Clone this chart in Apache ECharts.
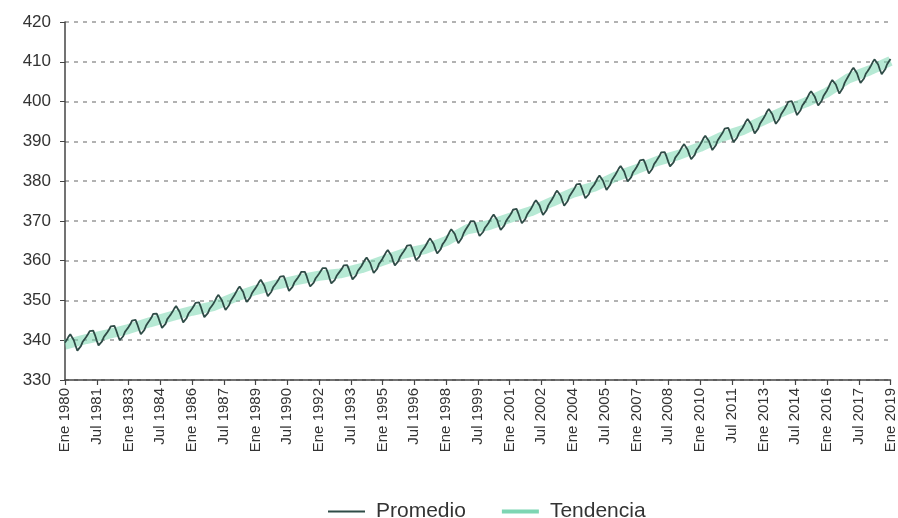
<!DOCTYPE html>
<html>
<head>
<meta charset="utf-8">
<script src="https://cdn.jsdelivr.net/npm/echarts@6/dist/echarts.min.js"></script>
<style>
html,body{margin:0;padding:0;background:#fff;}
#c{width:898px;height:518px;}
</style>
</head>
<body>
<div id="c"></div>
<script>
// Month names and years for categories
const meses = ["Ene","Feb","Mar","Abr","May","Jun","Jul","Ago","Sep","Oct","Nov","Dic"];
const anioInicio = 1980;
const anioFin = 2019; // data through Ene 2019

// Monthly average CO2 (ppm), Ene 1980 .. Ene 2019
const promedio = [
339.4,340.1,340.9,341.5,341.1,340.0,338.6,337.4,337.4,338.5,339.6,340.2,
340.8,341.5,342.3,342.8,342.4,341.3,339.9,338.7,338.7,339.7,340.8,341.4,
342.0,342.7,343.5,344.0,343.6,342.5,341.2,340.0,340.0,341.0,342.1,342.7,
343.3,344.0,344.9,345.4,345.1,344.0,342.7,341.5,341.5,342.6,343.7,344.4,
345.0,345.7,346.6,347.1,346.7,345.6,344.3,343.1,343.1,344.1,345.3,345.9,
346.5,347.2,348.0,348.6,348.2,347.1,345.7,344.5,344.5,345.6,346.7,347.3,
347.9,348.6,349.4,349.9,349.5,348.4,347.0,345.8,345.8,346.8,347.9,348.5,
349.1,349.9,350.8,351.4,351.0,350.0,348.7,347.6,347.7,348.8,349.9,350.6,
351.3,352.1,352.9,353.5,353.1,352.1,350.7,349.6,349.6,350.7,351.8,352.5,
353.1,353.8,354.6,355.2,354.8,353.7,352.3,351.1,351.1,352.2,353.3,353.9,
354.5,355.2,356.0,356.5,356.1,355.0,353.6,352.4,352.4,353.4,354.5,355.1,
355.7,356.4,357.2,357.7,357.2,356.1,354.7,353.5,353.5,354.5,355.5,356.1,
356.7,357.4,358.1,358.6,358.1,357.0,355.5,354.3,354.2,355.2,356.2,356.8,
357.3,358.0,358.8,359.3,358.9,357.8,356.5,355.3,355.3,356.3,357.4,358.0,
358.6,359.4,360.2,360.8,360.4,359.4,358.1,356.9,357.0,358.0,359.2,359.8,
360.5,361.3,362.1,362.7,362.3,361.3,359.9,358.8,358.8,359.9,361.0,361.7,
362.3,363.0,363.8,364.3,363.9,362.8,361.4,360.1,360.1,361.1,362.2,362.8,
363.4,364.2,365.0,365.6,365.3,364.2,362.9,361.8,361.8,362.9,364.1,364.7,
365.4,366.3,367.2,367.9,367.6,366.7,365.4,364.4,364.5,365.7,366.9,367.7,
368.4,369.1,369.9,370.4,369.9,368.8,367.4,366.2,366.2,367.2,368.2,368.8,
369.4,370.2,371.0,371.6,371.2,370.2,368.8,367.7,367.7,368.8,369.9,370.6,
371.2,371.9,372.8,373.3,373.0,371.9,370.6,369.4,369.4,370.5,371.6,372.3,
372.9,373.7,374.6,375.2,374.9,373.9,372.6,371.5,371.6,372.7,373.9,374.6,
375.3,376.1,377.0,377.6,377.3,376.3,375.0,373.8,373.9,375.0,376.2,376.9,
377.6,378.3,379.2,379.7,379.3,378.2,376.9,375.7,375.7,376.7,377.9,378.5,
379.1,379.9,380.8,381.4,381.1,380.1,378.9,377.8,377.9,379.0,380.2,380.9,
381.6,382.4,383.2,383.8,383.4,382.4,381.1,379.9,380.0,381.0,382.2,382.8,
383.5,384.3,385.2,385.7,385.4,384.4,383.1,381.9,382.0,383.1,384.3,384.9,
385.6,386.3,387.2,387.7,387.3,386.2,384.9,383.7,383.7,384.7,385.9,386.5,
387.1,387.9,388.7,389.3,389.0,387.9,386.6,385.5,385.5,386.6,387.8,388.4,
389.1,389.9,390.8,391.4,391.1,390.1,388.9,387.8,387.9,389.0,390.2,390.9,
391.6,392.3,393.2,393.7,393.4,392.3,391.0,389.8,389.8,390.9,392.0,392.7,
393.3,394.1,395.0,395.6,395.3,394.3,393.1,392.0,392.1,393.2,394.4,395.1,
395.8,396.6,397.5,398.1,397.8,396.8,395.5,394.4,394.5,395.6,396.8,397.5,
398.2,399.0,399.9,400.4,400.1,399.1,397.8,396.6,396.7,397.8,399.0,399.6,
400.3,401.1,402.0,402.6,402.3,401.3,400.1,399.0,399.1,400.2,401.4,402.1,
402.8,403.7,404.7,405.4,405.2,404.3,403.1,402.0,402.2,403.4,404.7,405.5,
406.3,407.1,407.9,408.5,408.2,407.1,405.8,404.7,404.7,405.8,407.0,407.6,
408.3,409.1,410.0,410.6,410.3,409.3,408.0,406.9,407.0,408.1,409.3,410.0,
410.7
];

// Trend (ppm) at each January, 1980 .. 2019
const tendencia = [
338.9,340.3,341.5,342.8,344.5,346.0,347.4,348.6,350.8,352.6,
354.0,355.2,356.2,356.8,358.1,360.0,361.8,362.9,364.9,367.9,
368.9,370.7,372.4,374.8,377.1,378.6,381.1,383.0,385.1,386.6,
388.6,391.1,392.8,395.3,397.7,399.8,402.3,405.8,407.8,410.2
];

const yTicks = [330,340,350,360,370,380,390,400,410,420];

// Build categories
const categorias = [];
for (let y = anioInicio; y <= anioFin; y++) {
  for (let m = 0; m < 12; m++) {
    if (y === anioFin && m > 0) break;
    categorias.push(meses[m] + " " + y);
  }
}
const tendData = categorias.map(() => null);
tendencia.forEach((v, i) => { tendData[i * 12] = v; });

const font = "Liberation Sans, Arial, sans-serif";
const chart = echarts.init(document.getElementById('c'), null, {renderer: 'canvas'});
chart.setOption({
  animation: false,
  backgroundColor: '#ffffff',
  grid: {left: 65, right: 3, top: 22, bottom: 138},
  legend: {
    left: 328,
    top: 501,
    itemWidth: 37,
    itemHeight: 14,
    itemGap: 36,
    padding: 0,
    textStyle: {fontFamily: font, fontSize: 21, color: '#333', padding: [0, 0, 0, 6]},
    data: [
      {name: 'Promedio', icon: 'path://M0,6 L37,6 L37,8 L0,8 Z', itemStyle: {color: '#2f4c47'}},
      {name: 'Tendencia', icon: 'path://M0,5 L37,5 L37,9 L0,9 Z', itemStyle: {color: '#7dd6b3'}}
    ]
  },
  xAxis: {
    type: 'category',
    data: categorias,
    boundaryGap: false,
    axisLine: {show: true, lineStyle: {color: '#444', width: 1.5}},
    axisTick: {show: true, interval: 17, length: 5, lineStyle: {color: '#444', width: 1.2}},
    axisLabel: {
      interval: 17,
      rotate: 90,
      margin: 8,
      fontFamily: font,
      fontSize: 15,
      color: '#333'
    },
    splitLine: {show: false}
  },
  yAxis: {
    type: 'value',
    min: yTicks[0],
    max: yTicks[yTicks.length - 1],
    interval: 10,
    axisLine: {show: true, lineStyle: {color: '#444', width: 1.5}},
    axisTick: {show: true, length: 5, lineStyle: {color: '#444'}},
    axisLabel: {fontFamily: font, fontSize: 17, color: '#333', margin: 14},
    splitLine: {show: true, lineStyle: {color: '#999', type: [4, 5], width: 1.5}}
  },
  series: [
    {
      name: 'Promedio',
      type: 'line',
      data: promedio,
      symbol: 'none',
      z: 3,
      lineStyle: {color: '#2f4c47', width: 1.8},
      itemStyle: {color: '#2f4c47'}
    },
    {
      name: 'Tendencia',
      type: 'line',
      data: tendData,
      connectNulls: true,
      symbol: 'none',
      z: 2,
      lineStyle: {color: 'rgba(110,212,170,0.5)', width: 10},
      itemStyle: {color: '#7dd6b3'}
    }
  ]
});
</script>
</body>
</html>
